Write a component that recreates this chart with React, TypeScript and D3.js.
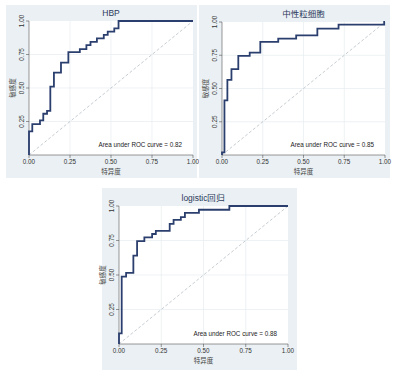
import React from 'react';
import * as d3 from 'd3';

// ROC corner points (fpr = 1 - specificity, tpr = sensitivity)
const hbpFpr = [0, 0, 0.02, 0.067, 0.087, 0.11, 0.13, 0.152, 0.195, 0.24, 0.31, 0.35, 0.375, 0.414, 0.456, 0.48, 0.52, 0.546, 1];
const hbpTpr = [0, 0.176, 0.23, 0.258, 0.308, 0.33, 0.51, 0.615, 0.69, 0.767, 0.79, 0.82, 0.844, 0.87, 0.896, 0.92, 0.945, 1, 1];

const neutFpr = [0, 0, 0.015, 0.033, 0.058, 0.1, 0.17, 0.235, 0.345, 0.455, 0.585, 0.715, 0.995, 1];
const neutTpr = [0, 0.02, 0.41, 0.565, 0.645, 0.745, 0.77, 0.85, 0.875, 0.9, 0.95, 0.98, 1, 1];

const logitFpr = [0, 0, 0.016, 0.042, 0.085, 0.107, 0.15, 0.196, 0.218, 0.3, 0.323, 0.366, 0.39, 0.473, 0.653, 1];
const logitTpr = [0, 0.077, 0.488, 0.515, 0.64, 0.746, 0.773, 0.797, 0.82, 0.87, 0.9, 0.92, 0.95, 0.973, 1, 1];

const ticks = [0, 0.25, 0.5, 0.75, 1];
const tickLabels = ['0.00', '0.25', '0.50', '0.75', '1.00'];

const xTitle = '特异度';
const yTitle = '敏感度';

const LATIN = '"Liberation Sans", Arial, sans-serif';
const CJK = '"Noto Sans CJK SC", "Noto Sans", sans-serif';

type PanelProps = {
    title: string;
    cjkTitle?: boolean;
    fpr: number[];
    tpr: number[];
    auc: string;
    box: { x: number; y: number; w: number; h: number };
    plot: { left: number; right: number; top: number; bottom: number };
};

function RocPanel({ title, cjkTitle, fpr, tpr, auc, box, plot }: PanelProps) {
    const x = d3.scaleLinear().domain([0, 1]).range([plot.left, plot.right]);
    const y = d3.scaleLinear().domain([0, 1]).range([plot.bottom, plot.top]);

    const pts: [number, number][] = fpr.map((f, i) => [f, tpr[i]]);
    const line = d3.line<[number, number]>()
        .x(d => x(d[0]))
        .y(d => y(d[1]))
        .curve(d3.curveStepAfter);

    const midX = (plot.left + plot.right) / 2;
    const midY = (plot.top + plot.bottom) / 2;

    return (
        <g>
            {/* graph region */}
            <rect x={box.x} y={box.y} width={box.w} height={box.h} fill="#eaf0f3" />
            {/* plot region */}
            <rect x={plot.left} y={plot.top} width={plot.right - plot.left} height={plot.bottom - plot.top} fill="#ffffff" />

            {/* grid */}
            {ticks.slice(1, 4).map(t => (
                <g key={'g' + t}>
                    <line x1={x(t)} x2={x(t)} y1={plot.top} y2={plot.bottom} stroke="#e6ecef" strokeWidth={0.7} />
                    <line x1={plot.left} x2={plot.right} y1={y(t)} y2={y(t)} stroke="#e6ecef" strokeWidth={0.7} />
                </g>
            ))}

            {/* reference diagonal */}
            <line x1={x(0)} y1={y(0)} x2={x(1)} y2={y(1)} stroke="#b8c0c6" strokeWidth={0.8} strokeDasharray="3,2" />

            {/* axes */}
            <line x1={plot.left} x2={plot.right} y1={plot.bottom} y2={plot.bottom} stroke="#555" strokeWidth={0.6} />
            <line x1={plot.left} x2={plot.left} y1={plot.top} y2={plot.bottom} stroke="#555" strokeWidth={0.6} />
            {ticks.map((t, i) => (
                <g key={'t' + t}>
                    <line x1={x(t)} x2={x(t)} y1={plot.bottom} y2={plot.bottom + 3} stroke="#555" strokeWidth={0.6} />
                    <text x={x(t)} y={plot.bottom + 9} textAnchor="middle" fontFamily={LATIN} fontSize={6.3} fill="#333">{tickLabels[i]}</text>
                    {t > 0 && <line x1={plot.left - 3} x2={plot.left} y1={y(t)} y2={y(t)} stroke="#555" strokeWidth={0.6} />}
                    {t > 0 && <text transform={`translate(${plot.left - 5},${y(t)}) rotate(-90)`} textAnchor="middle" fontFamily={LATIN} fontSize={6.3} fill="#333">{tickLabels[i]}</text>}
                </g>
            ))}

            {/* axis titles */}
            <text x={midX} y={plot.bottom + 19} textAnchor="middle" fontFamily={CJK} fontSize={6.5} fill="#444">{xTitle}</text>
            <text transform={`translate(${plot.left - 14},${midY}) rotate(-90)`} textAnchor="middle" fontFamily={CJK} fontSize={6.5} fill="#444">{yTitle}</text>

            {/* title */}
            <text x={midX} y={plot.top - 5} textAnchor="middle" fontFamily={cjkTitle ? CJK : LATIN} fontSize={8.5} fill="#2a3a5c">{title}</text>

            {/* ROC curve */}
            <path d={line(pts) ?? ''} fill="none" stroke="#2b3f6e" strokeWidth={1.8} strokeLinejoin="miter" />

            {/* AUC note */}
            <text x={plot.right - 11} y={plot.bottom - 8} textAnchor="end" fontFamily={LATIN} fontSize={6.3} fill="#222">{`Area under ROC curve = ${auc}`}</text>
        </g>
    );
}

export default function App() {
    return (
        <svg width={395} height={373} style={{ position: 'absolute', left: 0, top: 0, background: '#fff' }}>
            <RocPanel
                title="HBP"
                fpr={hbpFpr}
                tpr={hbpTpr}
                auc="0.82"
                box={{ x: 6, y: 5, w: 191, h: 173 }}
                plot={{ left: 29, right: 193, top: 21, bottom: 155 }}
            />
            <RocPanel
                title="中性粒细胞"
                cjkTitle
                fpr={neutFpr}
                tpr={neutTpr}
                auc="0.85"
                box={{ x: 199, y: 5, w: 191, h: 173 }}
                plot={{ left: 222, right: 385, top: 22, bottom: 155 }}
            />
            <RocPanel
                title="logistic回归"
                fpr={logitFpr}
                tpr={logitTpr}
                auc="0.88"
                box={{ x: 102, y: 188, w: 195, h: 182 }}
                plot={{ left: 119, right: 288, top: 206, bottom: 344 }}
            />
        </svg>
    );
}
